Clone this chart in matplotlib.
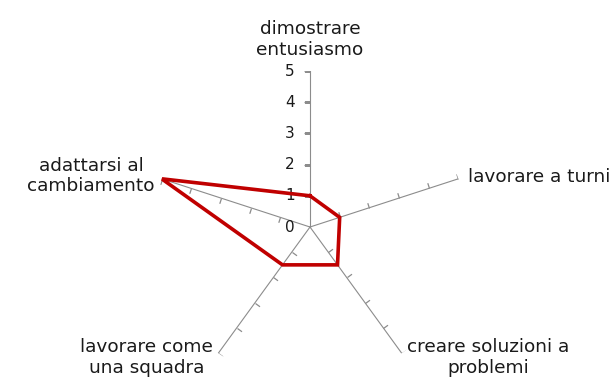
import numpy as np
import matplotlib
matplotlib.use('Agg')
import matplotlib.pyplot as plt
from matplotlib.markers import MarkerStyle
from matplotlib.path import Path
from matplotlib.transforms import Affine2D

categories = ['dimostrare\nentusiasmo', 'lavorare a turni', 'creare soluzioni a\nproblemi',
              'lavorare come\nuna squadra', 'adattarsi al\ncambiamento']
values = [1, 1, 1.5, 1.5, 5]
rticks = [0, 1, 2, 3, 4, 5]

plt.rcParams['font.family'] = 'DejaVu Sans'
grey = '#8c8c8c'

fig = plt.figure(figsize=(6.16, 3.83), dpi=100)
ax = fig.add_axes([0.25, 0.0, 0.5065, 0.8146], projection='polar')
ax.set_theta_offset(np.pi / 2)
ax.set_theta_direction(-1)
ax.set_ylim(0, 5)
ax.grid(False)
ax.set_xticks([])
ax.set_yticks([])
ax.spines['polar'].set_visible(False)

n = len(categories)
theta = np.arange(n) * 2 * np.pi / n

# spokes with small tick marks on one side
for i, t in enumerate(theta):
   ax.plot([t, t], [0, rticks[-1]], color=grey, lw=0.8, zorder=1)
   ang = 90 - 72 * i + 90
   m = MarkerStyle(Path([(0, 0), (1, 0)]), transform=Affine2D().rotate_deg(ang))
   ax.plot([t] * (len(rticks) - 1), rticks[1:], ls='none', marker=m, ms=8,
           mec=grey, mfc='none', mew=0.9, zorder=1)

# radial labels
for r in rticks:
   ax.annotate(str(r), xy=(0, r), xytext=(-11, 0), textcoords='offset points',
               ha='right', va='center', fontsize=11, color='#1a1a1a')

# data polygon
tt = np.append(theta, theta[0])
vv = np.append(values, values[0])
ax.plot(tt, vv, color='#C00000', lw=2.6, solid_joinstyle='miter', zorder=3)

# category labels
offs = [(0, 9, 'center', 'bottom'), (7, 1, 'left', 'center'), (4, -3, 'left', 'center'),
        (-4, -3, 'right', 'center'), (-5, 2, 'right', 'center')]
for t, lab, (dx, dy, ha, va) in zip(theta, categories, offs):
   ax.annotate(lab, xy=(t, 5), xytext=(dx, dy), textcoords='offset points',
               ha=ha, va=va, multialignment='center', fontsize=13.3, color='#1a1a1a',
               annotation_clip=False)

fig.savefig('out.png', dpi=100)
